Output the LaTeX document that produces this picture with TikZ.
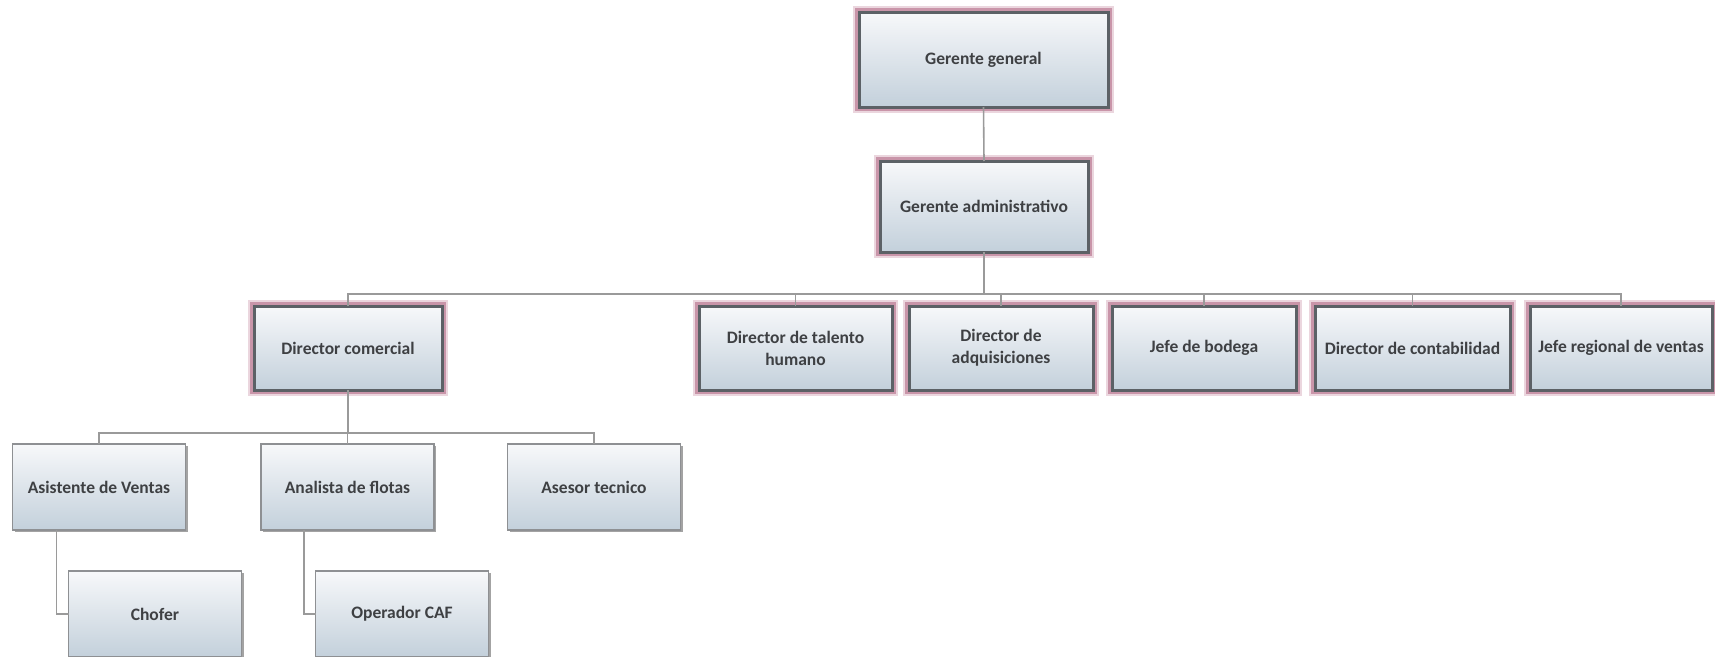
\documentclass[tikz,border=0pt]{standalone}
\usepackage{fontspec}
\setmainfont{Carlito}
\usetikzlibrary{shadows}

\definecolor{glowout}{HTML}{EBD6DE}
\definecolor{glowin}{HTML}{C995A9}
\definecolor{frame}{HTML}{5C6166}
\definecolor{thinframe}{HTML}{8E9093}
\definecolor{boxtop}{HTML}{F7F8FA}
\definecolor{boxmid}{HTML}{E2E8EE}
\definecolor{boxbot}{HTML}{C3D0DB}
\definecolor{labeltext}{HTML}{3E4043}
\definecolor{linkgray}{HTML}{9A9A9A}

\tikzset{
  orgbase/.style={rectangle, inner sep=2pt, outer sep=0pt, align=center,
    top color=boxtop, middle color=boxmid, bottom color=boxbot,
    text=labeltext, font=\fontsize{17.5}{22}\selectfont\bfseries},
  headbox/.style={orgbase,
    preaction={draw=glowout, line width=12pt},
    preaction={draw=glowin, line width=7.5pt},
    draw=frame, line width=3pt,
    drop shadow={shadow xshift=1.5pt, shadow yshift=-1.5pt, fill=black!70, opacity=0.5}},
  staffbox/.style={orgbase, draw=thinframe, line width=1.5pt,
    drop shadow={shadow xshift=2pt, shadow yshift=-2pt, fill=black!60, opacity=0.6}},
  lvltwo/.style={headbox, minimum height=84pt},
  lvlthree/.style={staffbox, minimum height=86pt, minimum width=173pt},
  conn/.style={draw=linkgray, line width=1.6pt}
}

\begin{document}
\begin{tikzpicture}[x=1pt, y=-1pt]
\useasboundingbox (0,0) rectangle (1715,656);

% top management
\node[headbox, minimum width=249pt, minimum height=95pt] (gg) at (983.5,59.5) {Gerente general};
\node[headbox, minimum width=208pt, minimum height=91pt] (ga) at (984,206.5) {Gerente administrativo};

% directors
\node[lvltwo, minimum width=188pt] (dc)  at (348,348)    {Director comercial};
\node[lvltwo, minimum width=193pt] (dt)  at (795.5,348)  {Director de talento\\humano};
\node[lvltwo, minimum width=184pt] (da)  at (1001,348)   {Director de\\adquisiciones};
\node[lvltwo, minimum width=184pt] (jb)  at (1204,348)   {Jefe de bodega};
\node[lvltwo, minimum width=195pt] (dco) at (1412.5,348) {Director de contabilidad};
\node[lvltwo, minimum width=182pt] (jr)  at (1621,348)   {Jefe regional de ventas};

% sales staff
\node[lvlthree] (av) at (99,487)    {Asistente de Ventas};
\node[lvlthree] (af) at (347.5,487) {Analista de flotas};
\node[lvlthree] (at) at (594,487)   {Asesor tecnico};

% subordinates of sales staff
\node[lvlthree] (ch) at (155,614) {Chofer};
\node[lvlthree] (op) at (402,614) {Operador CAF};

% connectors
\draw[conn] (gg.south) -- (ga.north);
\foreach \c in {dc,dt,da,jb,dco,jr}
  \draw[conn] (ga.south) -- ++(0,42) -| (\c.north);
\foreach \c in {av,af,at}
  \draw[conn] (dc.south) -- ++(0,43) -| (\c.north);
\draw[conn] ([xshift=44pt]av.south west) |- (ch.west);
\draw[conn] ([xshift=43pt]af.south west) |- (op.west);
\end{tikzpicture}
\end{document}
